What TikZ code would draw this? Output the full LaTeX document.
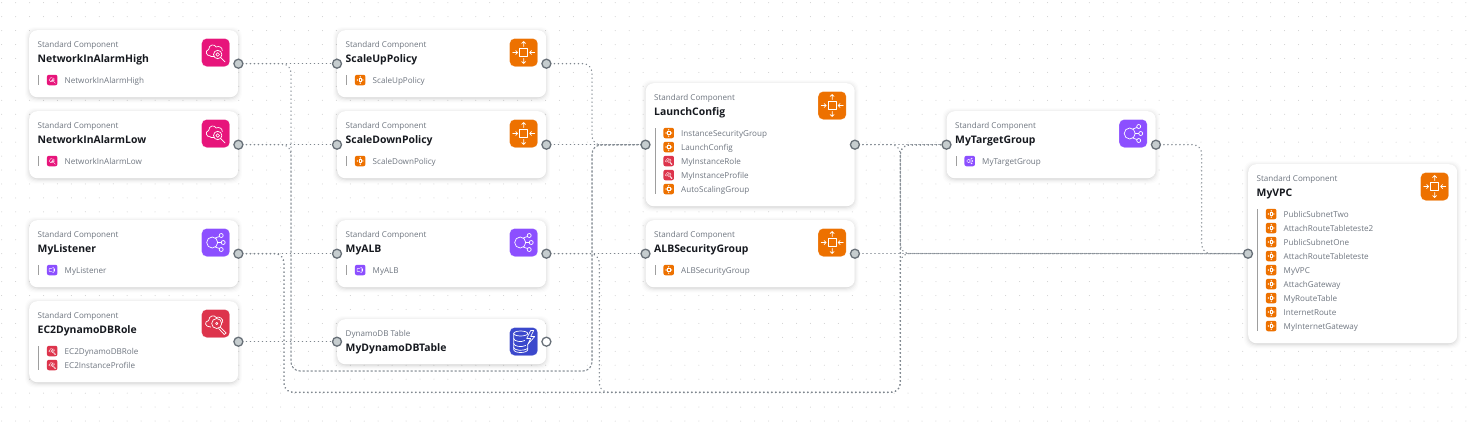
\documentclass[tikz,border=0pt]{standalone}
\usepackage{fontspec}
\setmainfont{Open Sans}
\pgfdeclarelayer{bg}
\pgfdeclarelayer{edge}
\pgfsetlayers{bg,edge,main}
\definecolor{pinkc}{HTML}{E7157B}
\definecolor{redc}{HTML}{DD344C}
\definecolor{purc}{HTML}{8C4FFF}
\definecolor{orac}{HTML}{ED7100}
\definecolor{bluc}{HTML}{3B48CC}
\definecolor{subc}{HTML}{6F7680}
\definecolor{namec}{HTML}{16191F}
\definecolor{linec}{HTML}{7F878F}
\definecolor{handc}{HTML}{C6CDCF}
\definecolor{handl}{HTML}{687078}
\tikzset{
 x=1pt,y=-1pt,
 cardbox/.style={draw=none,fill=white,rounded corners=8pt,inner sep=0pt,anchor=north west},
 handle/.style={circle,draw=handl,line width=1.3pt,fill=handc,minimum size=9pt,inner sep=0pt},
 handlefree/.style={handle,fill=white},
 edgeline/.style={draw=linec,line width=1.5pt,line cap=round,dash pattern=on 0.1pt off 3.9pt,rounded corners=9pt},
 bigicon/.style={rounded corners=5pt,minimum size=28pt,inner sep=0pt,draw=white,draw opacity=.25,line width=.5pt},
 smallicon/.style={rounded corners=2pt,minimum size=10.5pt,inner sep=0pt},
 typetxt/.style={anchor=base west,inner sep=0pt,text=subc,font=\fontsize{8.05}{10}\selectfont},
 nametxt/.style={anchor=base west,inner sep=0pt,text=namec,font=\fontsize{10.4}{13}\selectfont\bfseries},
 rowtxt/.style={anchor=base west,inner sep=0pt,text=subc,font=\fontsize{8.1}{10}\selectfont},
 glyph/.style={draw=white,line width=#1,line cap=round,line join=round},
 glyph/.default=.7pt,
 arrowsg/.pic={
  \draw[glyph=\gw] (-4,-4) rectangle (4,4);
  \draw[glyph=\gw] (0,-6) -- (0,-11) (-2,-9) -- (0,-11) -- (2,-9);
  \draw[glyph=\gw] (0,6) -- (0,11) (-2,9) -- (0,11) -- (2,9);
  \draw[glyph=\gw] (-11,0) -- (-6,0) (-8,-2) -- (-6,0) -- (-8,2);
  \draw[glyph=\gw] (11,0) -- (6,0) (8,-2) -- (6,0) -- (8,2);
 },
 cloudg/.pic={
  \draw[glyph=\gw] (-5,3.5) .. controls (-10,3.5) and (-11,-2) .. (-7,-3) .. controls (-7,-8) and (-1,-9) .. (0.5,-5.5) .. controls (3,-7) and (7,-5) .. (6.5,-2);
  \draw[glyph=\gw] (-5,3.5) -- (-2,3.5);
  \draw[glyph=\gw] (2,2) circle (4.2);
  \draw[glyph=\gw] (2,2) circle (1.8);
  \draw[glyph=\gw] (5,5) -- (9.5,9.5);
 },
 keyg/.pic={
  \draw[glyph=\gw] (-5,3.5) .. controls (-11,3.5) and (-12,-2) .. (-7,-3) .. controls (-7,-8) and (-1,-9) .. (0.5,-6) .. controls (3,-7.5) and (8,-5) .. (7,-1);
  \draw[glyph=\gw] (1,0) circle (5);
  \draw[glyph=\gw] (1,0) circle (1.2);
  \draw[glyph=\gw] (4.5,3.5) -- (10.5,9.5) -- (8.5,11) -- (3,5);
 },
 nodesg/.pic={
  \draw[glyph=\gw] (-3.5,0) circle (5.5);
  \draw[glyph=\gw] (5.5,-7) circle (2) (7.5,0) circle (2) (5.5,7) circle (2);
  \draw[glyph=\gw] (-0.5,-4.5) -- (3.8,-6) (2,0) -- (5.5,0) (-0.5,4.5) -- (3.8,6);
 },
 speakerg/.pic={
  \draw[glyph=\gw] (-9,-4) -- (-3,-4) -- (4,-8) -- (4,8) -- (-3,4) -- (-9,4) -- cycle;
  \draw[glyph=\gw] (7,-4) .. controls (9,-2) and (9,2) .. (7,4);
 },
 dbg/.pic={
  \draw[glyph=\gw] (-3,-8) ellipse (7 and 2.5);
  \draw[glyph=\gw] (-10,-8) -- (-10,8) .. controls (-10,12) and (4,12) .. (4,8) -- (4,3);
  \draw[glyph=\gw] (-10,-3) .. controls (-10,0) and (-2,1) .. (1,-1);
  \draw[glyph=\gw] (-10,2) .. controls (-10,5) and (-2,6) .. (2,4);
  \draw[glyph=\gw] (-10,6) .. controls (-10,9) and (0,10) .. (4,7);
  \draw[glyph=\gw] (7,-11) -- (3,-3) -- (7,-3) -- (4,3) -- (11,-5) -- (7,-5) -- (10,-11) -- cycle;
 },
}
\newcommand{\gw}{.7pt}
% #1 id  #2 x  #3 y  #4 height  #5 type  #6 name  #7 colour  #8 glyph  #9 rows
\newcommand{\compcard}[9]{%
 \begin{pgfonlayer}{bg}
  \foreach \sh/\op in {4/.012,3/.016,2/.022,1/.03,0/.04}
   \fill[black,opacity=\op,rounded corners=9pt] (#2-\sh,#3+1-\sh) rectangle (#2+209+\sh,#3+#4+1.5+\sh);
 \end{pgfonlayer}
 \node[cardbox,minimum width=209pt,minimum height=#4pt] (#1) at (#2,#3) {};
 \node[typetxt] (#1-type) at (#2+8.5,#3+17.3) {#5};
 \node[nametxt] (#1-name) at (#2+8.5,#3+32.3) {#6};
 \node[bigicon,fill=#7] (#1-icon) at (#2+186.7,#3+22.5) {};
 \pic at (#1-icon) {#8};
 \def\rowlist{#9}%
 \ifx\rowlist\empty\else
  \foreach \rc/\rg/\rt [count=\ri] in {#9} {
   \node[smallicon,fill=\rc] (#1-s\ri) at (#2+23.2,#3+36+14*\ri) {};
   \begingroup\renewcommand{\gw}{.3pt}
   \pic[scale=.34] at (#1-s\ri) {\rg};
   \endgroup
   \node[rowtxt] (#1-t\ri) at (#2+35.5,#3+39+14*\ri) {\rt};
   \xdef\lastrow{\ri}
  }
  \draw[draw=black!38,line width=.8pt] (#2+9.5,#3+45) -- (#2+9.5,#3+41+14*\lastrow);
 \fi
}
\begin{document}
\begin{tikzpicture}
\useasboundingbox (0,0) rectangle (1479,431);
\begin{pgfonlayer}{bg}
 \fill[white] (0,0) rectangle (1479,431);
 \foreach \gx in {0,...,106} \foreach \gy in {0,...,30}
  \fill[black!20] (1.7+13.944*\gx,2.7+13.944*\gy) circle (.5);
\end{pgfonlayer}

\compcard{high}{29}{30}{67}{Standard Component}{NetworkInAlarmHigh}{pinkc}{cloudg}{pinkc/cloudg/NetworkInAlarmHigh}
\compcard{low}{29}{111}{67}{Standard Component}{NetworkInAlarmLow}{pinkc}{cloudg}{pinkc/cloudg/NetworkInAlarmLow}
\compcard{lis}{29}{220}{67}{Standard Component}{MyListener}{purc}{nodesg}{purc/speakerg/MyListener}
\compcard{role}{29}{301}{81}{Standard Component}{EC2DynamoDBRole}{redc}{keyg}{redc/keyg/EC2DynamoDBRole,redc/keyg/EC2InstanceProfile}
\compcard{up}{337}{30}{67}{Standard Component}{ScaleUpPolicy}{orac}{arrowsg}{orac/arrowsg/ScaleUpPolicy}
\compcard{down}{337}{111}{67}{Standard Component}{ScaleDownPolicy}{orac}{arrowsg}{orac/arrowsg/ScaleDownPolicy}
\compcard{alb}{337}{220}{67}{Standard Component}{MyALB}{purc}{nodesg}{purc/speakerg/MyALB}
\compcard{ddb}{337}{319}{45}{DynamoDB Table}{MyDynamoDBTable}{bluc}{dbg}{}
\compcard{lc}{645.5}{83}{123}{Standard Component}{LaunchConfig}{orac}{arrowsg}{orac/arrowsg/InstanceSecurityGroup,orac/arrowsg/LaunchConfig,redc/keyg/MyInstanceRole,redc/keyg/MyInstanceProfile,orac/arrowsg/AutoScalingGroup}
\compcard{sg}{645.5}{220}{67}{Standard Component}{ALBSecurityGroup}{orac}{arrowsg}{orac/arrowsg/ALBSecurityGroup}
\compcard{tg}{946.5}{111}{67}{Standard Component}{MyTargetGroup}{purc}{nodesg}{purc/nodesg/MyTargetGroup}
\compcard{vpc}{1248}{164}{179}{Standard Component}{MyVPC}{orac}{arrowsg}{orac/arrowsg/PublicSubnetTwo,orac/arrowsg/AttachRouteTableteste2,orac/arrowsg/PublicSubnetOne,orac/arrowsg/AttachRouteTableteste,orac/arrowsg/MyVPC,orac/arrowsg/AttachGateway,orac/arrowsg/MyRouteTable,orac/arrowsg/InternetRoute,orac/arrowsg/MyInternetGateway}

% handles
\foreach \n in {high,low,lis,role,up,down,alb,lc,sg,tg}
 \node[handle] (\n-r) at (\n.east) {};
\foreach \n in {up,down,alb,ddb,lc,sg,tg,vpc}
 \node[handle] (\n-l) at (\n.west) {};
\node[handlefree] (ddb-r) at (ddb.east) {};

% routing points
\coordinate (a1) at (291,371);
\coordinate (a2) at (592,371);
\coordinate (a3) at (592,145);
\coordinate (b1) at (284,392.3);
\coordinate (b2) at (900.3,392.3);
\coordinate (b3) at (900.3,145);
\coordinate (b4) at (900.3,253.5);
\coordinate (c1) at (599.3,392.3);
\coordinate (e2) at (1201.7,253.5);

\begin{pgfonlayer}{edge}
 \draw[edgeline] (high-r.center) -- (up-l.center);
 \draw[edgeline] (low-r.center) -- (down-l.center);
 \draw[edgeline] (lis-r.center) -- (alb-l.center);
 \draw[edgeline] (role-r.center) -- (ddb-l.center);
 \draw[edgeline] (down-r.center) -- (lc-l.center);
 \draw[edgeline] (alb-r.center) -- (sg-l.center);
 \draw[edgeline] (sg-r.center) -- (vpc-l.center);
 \draw[edgeline] (lc-r.center) -- (tg-l.center);
 \draw[edgeline] (up-r.center) -| (a3) -- (lc-l.center);
 \draw[edgeline] (tg-r.center) -| (e2) -- (vpc-l.center);
 \draw[edgeline] (high-r.center) -| (a1) -- (a2) -- (a3) -- (lc-l.center);
 \draw[edgeline] (low-r.center) -| (a1) -- (a2) -- (a3) -- (lc-l.center);
 \draw[edgeline] (lis-r.center) -| (b1) -- (b2) -- (b3) -- (tg-l.center);
 \draw[edgeline] (alb-r.center) -| (c1) -- (b2) -- (b3) -- (tg-l.center);
 \draw[edgeline] (lis-r.center) -| (b1) -- (b2) -- (b4) -- (vpc-l.center);
 \draw[edgeline] (lc-r.center) -| (b4) -- (vpc-l.center);
\end{pgfonlayer}
\end{tikzpicture}
\end{document}
